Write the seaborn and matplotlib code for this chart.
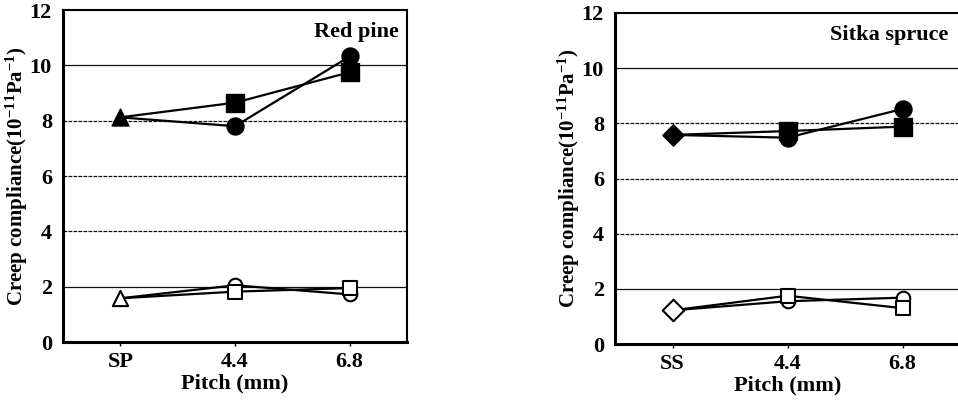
import matplotlib
matplotlib.use("Agg")
import matplotlib.pyplot as plt
import seaborn as sns

# ---- data ----
rp_ticks = ["SP", "4.4", "6.8"]
ss_ticks = ["SS", "4.4", "6.8"]
rp_filled_sq = [8.12, 8.65, 9.75]
rp_filled_ci = [8.12, 7.80, 10.32]
rp_open_sq = [1.58, 1.82, 1.95]
rp_open_ci = [1.58, 2.05, 1.72]
ss_filled_sq = [7.58, 7.72, 7.88]
ss_filled_ci = [7.58, 7.48, 8.52]
ss_open_sq = [1.22, 1.75, 1.30]
ss_open_ci = [1.22, 1.55, 1.68]

sns.set_theme(style="white")
plt.rcParams["font.family"] = ["Liberation Serif", "DejaVu Serif"]
plt.rcParams["font.weight"] = "bold"
plt.rcParams["text.color"] = "black"
plt.rcParams["axes.labelcolor"] = "black"
plt.rcParams["xtick.color"] = "black"
plt.rcParams["ytick.color"] = "black"
plt.rcParams["mathtext.fontset"] = "custom"
plt.rcParams["mathtext.rm"] = "Liberation Serif:bold"
plt.rcParams["mathtext.it"] = "Liberation Serif:bold"
plt.rcParams["mathtext.bf"] = "Liberation Serif:bold"

fig = plt.figure(figsize=(9.58, 4.04), dpi=100)
W, H = 958, 404
axL = fig.add_axes([63 / W, (H - 342) / H, 344 / W, 332 / H])
axR = fig.add_axes([615 / W, (H - 344) / H, 345 / W, 331 / H])


def panel(ax, ticks, fsq, fci, osq, oci, first_marker, title, tx, ylab_x):
    x = [0, 1, 2]
    for yv in [2, 4, 6, 8, 10]:
        ax.axhline(yv, color="#111111", lw=0.9,
                   ls="-" if yv in (2, 10) else (0, (3, 1)), zorder=1)
    for series in (fsq, fci, osq, oci):
        sns.lineplot(x=x, y=series, ax=ax, color="black", lw=1.6,
                     zorder=2, legend=False)
    # filled markers
    sns.scatterplot(x=[0], y=[fsq[0]], ax=ax, marker=first_marker,
                    s=150 if first_marker == "^" else 120,
                    color="black", edgecolor="black", zorder=4, legend=False)
    sns.scatterplot(x=[1, 2], y=fsq[1:], ax=ax, marker="s", s=150,
                    color="black", edgecolor="black", zorder=4, legend=False)
    sns.scatterplot(x=[1, 2], y=fci[1:], ax=ax, marker="o", s=150,
                    color="black", edgecolor="black", zorder=4, legend=False)
    # open markers
    sns.scatterplot(x=[0], y=[osq[0]], ax=ax, marker=first_marker, s=120,
                    facecolor="white", edgecolor="black", linewidth=1.5,
                    zorder=4, legend=False)
    sns.scatterplot(x=[1, 2], y=oci[1:], ax=ax, marker="o", s=95,
                    facecolor="white", edgecolor="black", linewidth=1.5,
                    zorder=4, legend=False)
    sns.scatterplot(x=[1, 2], y=osq[1:], ax=ax, marker="s", s=90,
                    facecolor="white", edgecolor="black", linewidth=1.5,
                    zorder=5, legend=False)
    ax.set_xlim(-0.5, 2.5)
    ax.set_ylim(0, 12)
    ax.set_xticks(x)
    ax.set_xticklabels(ticks)
    ax.set_yticks([0, 2, 4, 6, 8, 10, 12])
    ax.tick_params(axis="x", bottom=True, length=3, width=1, direction="out",
                   labelsize=16, pad=4, colors="black")
    ax.tick_params(axis="y", left=False, labelsize=16, pad=2, colors="black")
    for lab in ax.get_xticklabels() + ax.get_yticklabels():
        lab.set_fontweight("bold")
    for side in ax.spines.values():
        side.set_color("black")
        side.set_linewidth(1.5)
    ax.spines["left"].set_linewidth(2.2)
    ax.spines["bottom"].set_linewidth(2.2)
    ax.set_xlabel("Pitch (mm)", fontsize=16, fontweight="bold", color="black")
    ax.xaxis.set_label_coords(0.5, -0.095)
    ax.set_ylabel(r"Creep compliance(10$^{-11}$Pa$^{-1}$)", fontsize=15,
                  fontweight="bold", color="black")
    ax.yaxis.set_label_coords(ylab_x, 0.5)
    ax.text(tx, 11.2, title, fontsize=16, fontweight="bold", color="black",
            ha="center", va="center")


panel(axL, rp_ticks, rp_filled_sq, rp_filled_ci, rp_open_sq, rp_open_ci,
      "^", "Red pine", 2.06, -0.095)
panel(axR, ss_ticks, ss_filled_sq, ss_filled_ci, ss_open_sq, ss_open_ci,
      "D", "Sitka spruce", 1.88, -0.095)
fig.savefig("out.png", dpi=100)
